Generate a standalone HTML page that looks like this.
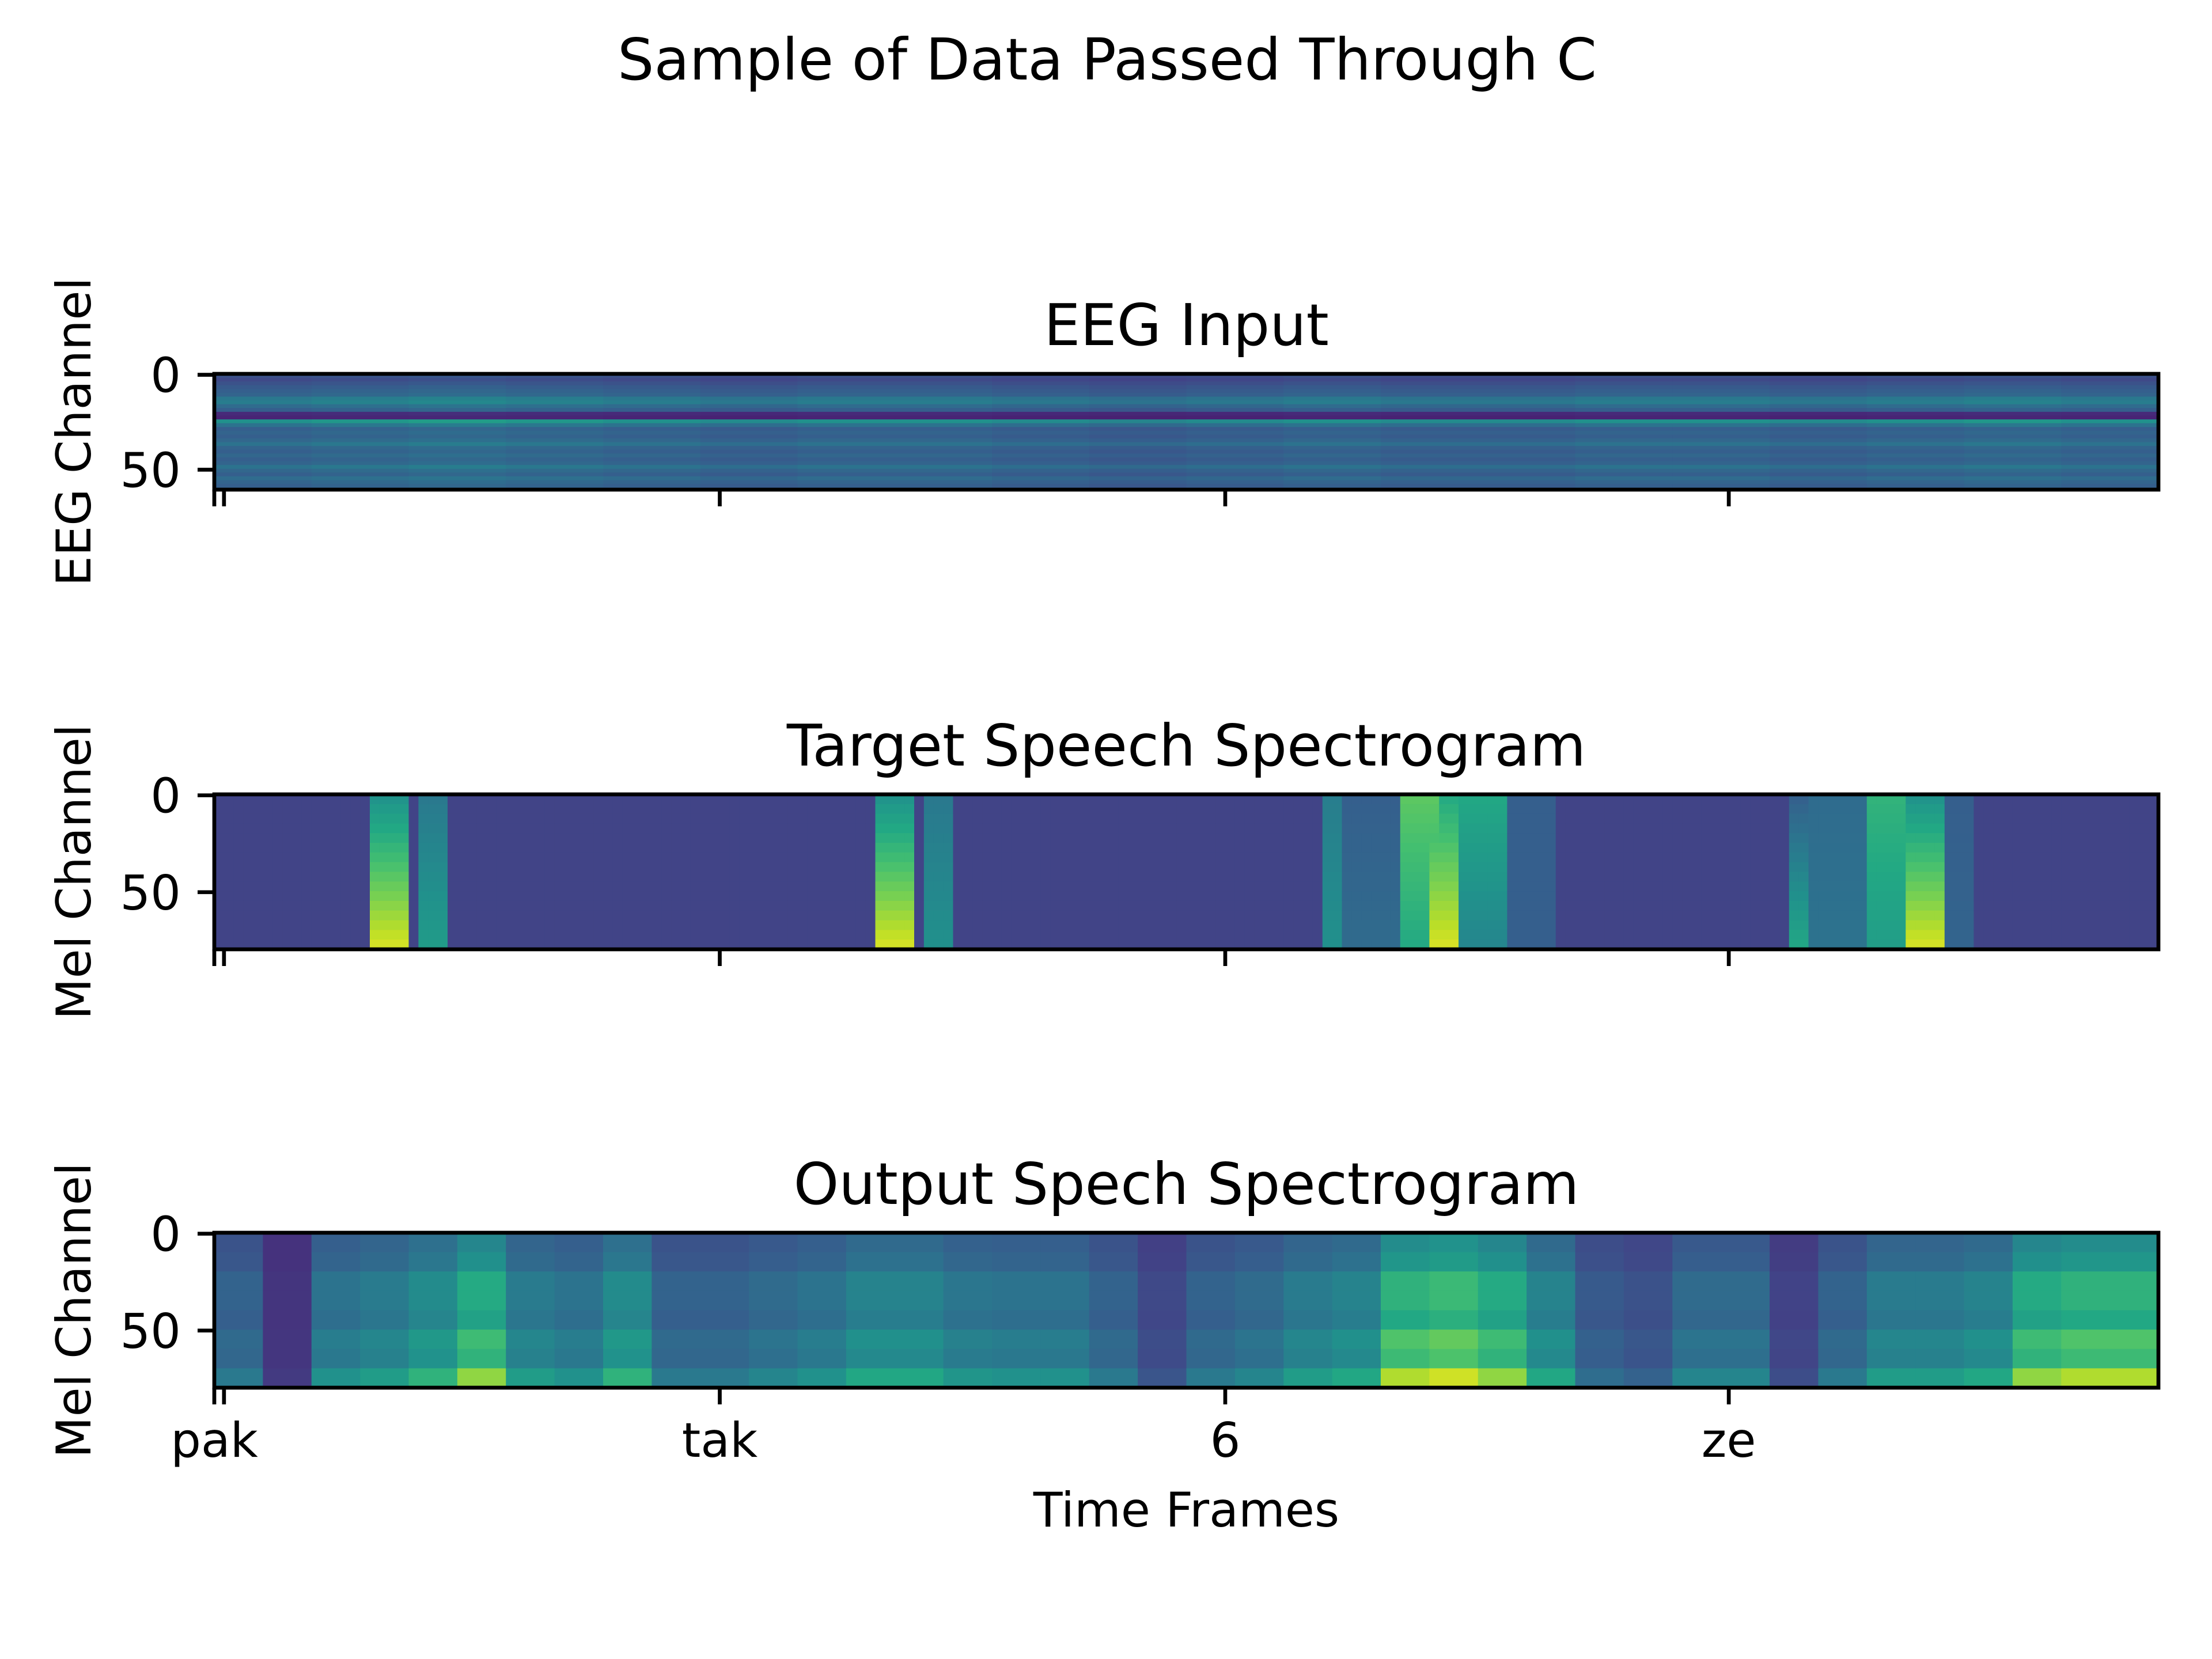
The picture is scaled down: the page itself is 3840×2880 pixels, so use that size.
<!DOCTYPE html>
<html><head><meta charset="utf-8">
<style>
html,body{margin:0;padding:0;background:#fff;}
svg{display:block;font-family:"DejaVu Sans","Liberation Sans",sans-serif;}
</style></head>
<body>
<svg id="fig" width="3840" height="2880" viewBox="0 0 3840 2880" xmlns="http://www.w3.org/2000/svg">
<rect width="3840" height="2880" fill="#fff"/>
<text x="1922" y="138" font-size="100" text-anchor="middle">Sample of Data Passed Through C</text>
<g id="plots"></g>
</svg>
<script>
// ---- data ----
const nFrames = 1000;
const xTickFrames = [0, 5, 260, 520, 779];
const xTickLabels = ["pak", "", "tak", "6", "ze"];
const yTickValues = [0, 50];
const eegChannels = 61;
const melChannels = 80;
// EEG: per 2-channel group intensity
const eegRowLevels = [0.25,0.22,0.25,0.28,0.3,0.32,0.4,0.42,0.35,0.3,0.12,0.1,0.5,0.38,0.3,0.32,0.3,0.33,0.38,0.32,0.3,0.33,0.3,0.32,0.38,0.33,0.3,0.35,0.32,0.3,0.3];
const eegColGain = [1,1.05,1.1,1.05,1,0.95,1,1,0.95,0.9,0.95,1,0.95,0.95,1,1,0.95,1,1.05,1];
// Target speech events
const tgtBackground = 0.2;
const evStart =  [79, 105, 340, 365, 568, 580, 608, 625, 640, 665, 808, 818, 851, 869, 890];
const evEnd =    [99, 121, 361, 378, 580, 612, 630, 642, 665, 690, 818, 851, 869, 890, 905];
const evTop =    [0.5,0.4,0.5,0.4,0.42,0.3,0.75,0.6,0.6,0.3,0.3,0.35,0.65,0.5,0.3];
const evBottom = [0.95,0.55,0.95,0.5,0.5,0.35,0.6,0.95,0.45,0.3,0.6,0.38,0.55,0.95,0.32];
// Output spectrogram: column strength every 25 frames, row profile every 10 mel
const outCols = [0.3,0.05,0.4,0.45,0.55,0.75,0.45,0.4,0.55,0.3,0.3,0.35,0.4,0.5,0.5,0.42,0.4,0.4,0.3,0.15,0.3,0.35,0.45,0.5,0.8,0.85,0.75,0.5,0.25,0.2,0.35,0.35,0.12,0.3,0.45,0.45,0.5,0.75,0.8,0.8];
const outRows = [0.45,0.5,0.65,0.65,0.6,0.75,0.7,0.95];
const outBase = 0.12;

// ---- helpers ----
const VIR = ["#440154","#482475","#414487","#355f8d","#2a788e","#21918c","#22a884","#44bf70","#7ad151","#bddf26","#fde725"];
function hx(h){return [parseInt(h.substr(1,2),16),parseInt(h.substr(3,2),16),parseInt(h.substr(5,2),16)];}
function viridis(t){t=Math.max(0,Math.min(1,t));const p=t*10,i=Math.min(9,Math.floor(p)),f=p-i;const a=hx(VIR[i]),b=hx(VIR[i+1]);
 return "rgb("+a.map((v,k)=>Math.round(v+(b[k]-v)*f)).join(",")+")";}
const NS="http://www.w3.org/2000/svg";
function el(tag,attrs,parent){const e=document.createElementNS(NS,tag);for(const k in attrs)e.setAttribute(k,attrs[k]);parent.appendChild(e);return e;}
const root=document.getElementById("plots");
const AX_L=372, AX_W=3375;
const TICK=29, LW=6.7, FS=83;
function xScale(f){return AX_L+f/nFrames*AX_W;}

function makeAxes(name,top,h,nRows,title,ylabel,showX){
 const g=el("g",{},root);
 
 
 const cells=el("g",{},g);
 
 
 const yScale=r=>top+(r+0.5)/nRows*h;
 const ax={g,cells,top,h,nRows,yScale};
 const t=el("text",{x:AX_L+AX_W/2,y:top-50,"font-size":100,"text-anchor":"middle"},g);
 t.textContent=title;
 
 
 const cy=top+h/2;
 const yl=el("text",{x:0,y:0,"font-size":FS,"text-anchor":"middle",transform:"translate(157,"+cy+") rotate(-90)"},g);
 yl.textContent=ylabel;
 
 
 ax.finish=function(){
  const fr=el("rect",{x:AX_L,y:top,width:AX_W,height:h,fill:"none",stroke:"#000","stroke-width":LW},g);
  
  
  yTickValues.forEach(v=>{
   const y=yScale(v);
   const tk=el("line",{x1:AX_L,x2:AX_L-TICK,y1:y,y2:y,stroke:"#000","stroke-width":LW},g);
   
   
   const lb=el("text",{x:AX_L-2*TICK,y:y+30,"font-size":FS,"text-anchor":"end"},g);
   lb.textContent=String(v);
   
   
  });
  xTickFrames.forEach((f,i)=>{
   const x=xScale(f);
   const tk=el("line",{x1:x,x2:x,y1:top+h,y2:top+h+TICK,stroke:"#000","stroke-width":LW},g);
   
   
   if(showX && xTickLabels[i]){
    const lb=el("text",{x:x,y:top+h+2*TICK+62,"font-size":FS,"text-anchor":"middle"},g);
    lb.textContent=xTickLabels[i];
    
    
   }
  });
 };
 return ax;
}
function cell(ax,f0,f1,r0,r1,v){
 const y0=ax.yScale(r0-0.5), y1=ax.yScale(r1-0.5);
 const r=el("rect",{x:xScale(f0),y:y0,width:xScale(f1)-xScale(f0)+0.6,height:y1-y0+0.6,fill:viridis(v)},ax.cells);
 
 
}

// EEG
const eeg=makeAxes("eeg-input-panel",649,201,eegChannels,"EEG Input","EEG Channel",false);
const eCw=nFrames/eegColGain.length;
eegColGain.forEach((gain,ci)=>{
 eegRowLevels.forEach((lv,ri)=>{
  const r0=ri*2, r1=Math.min(eegChannels,ri*2+2);
  cell(eeg,ci*eCw,(ci+1)*eCw,r0,r1,lv*gain);
 });
});
eeg.finish();

// Target
const tgt=makeAxes("target-spectrogram-panel",1379,269,melChannels,"Target Speech Spectrogram","Mel Channel",false);
const tStep=5, mStep=5;
for(let f=0;f<nFrames;f+=tStep){
 for(let m=0;m<melChannels;m+=mStep){
  let v=tgtBackground;
  const fm=f+tStep/2, mm=(m+mStep/2)/melChannels;
  for(let k=0;k<evStart.length;k++){
   if(fm>=evStart[k]&&fm<evEnd[k]){v=Math.max(v,evTop[k]+(evBottom[k]-evTop[k])*mm);}
  }
  cell(tgt,f,f+tStep,m,m+mStep,v);
 }
}
tgt.finish();

// Output
const out=makeAxes("output-spectrogram-panel",2140,269,melChannels,"Output Spech Spectrogram","Mel Channel",true);
const oCw=nFrames/outCols.length, oRh=melChannels/outRows.length;
outCols.forEach((c,ci)=>{
 outRows.forEach((rw,ri)=>{
  cell(out,ci*oCw,(ci+1)*oCw,ri*oRh,(ri+1)*oRh,outBase+c*rw);
 });
});
out.finish();

const xl=el("text",{x:AX_L+AX_W/2,y:2650,"font-size":FS,"text-anchor":"middle"},root);
xl.textContent="Time Frames";


</script>
</body></html>
